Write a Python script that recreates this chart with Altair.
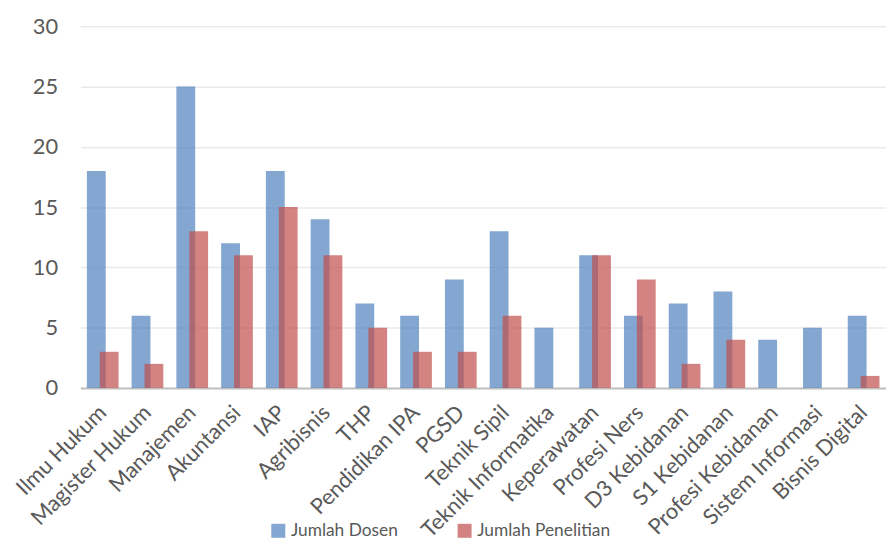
import altair as alt
import pandas as pd

categories = ["Ilmu Hukum", "Magister Hukum", "Manajemen", "Akuntansi", "IAP", "Agribisnis",
              "THP", "Pendidikan IPA", "PGSD", "Teknik Sipil", "Teknik Informatika",
              "Keperawatan", "Profesi Ners", "D3 Kebidanan", "S1 Kebidanan",
              "Profesi Kebidanan", "Sistem Informasi", "Bisnis Digital"]
dosen = [18, 6, 25, 12, 18, 14, 7, 6, 9, 13, 5, 11, 6, 7, 8, 4, 5, 6]
penelitian = [3, 2, 13, 11, 15, 11, 5, 3, 3, 6, 0, 11, 9, 2, 4, 0, 0, 1]
series = ["Jumlah Dosen", "Jumlah Penelitian"]
colors = ["#4f81bd", "#c0504d"]

df1 = pd.DataFrame({"cat": categories, "val": dosen, "s": series[0]})
df2 = pd.DataFrame({"cat": categories, "val": penelitian, "s": series[1]})

FONT = "Lato"
color_scale = alt.Scale(domain=series, range=colors)
y_scale = alt.Scale(domain=[0, 30])

x = alt.X("cat:N", sort=categories, title=None,
          scale=alt.Scale(paddingInner=0, paddingOuter=0),
          axis=alt.Axis(labelAngle=-45, labelAlign="right", labelBaseline="middle",
                        labelPadding=21, ticks=False, domainColor="#bfbfbf", domainWidth=2,
                        labelFontSize=22, labelFont=FONT, labelColor="#595959",
                        labelOverlap=False, labelLimit=300))
y_axis = alt.Axis(values=[0, 5, 10, 15, 20, 25, 30], domain=False, ticks=False,
                  gridColor="#eaeaea", gridWidth=1.5, labelPadding=23,
                  labelFontSize=22, labelFont=FONT, labelColor="#595959")

legend = alt.Legend(title=None, orient="none", legendX=191, legendY=500, direction="horizontal",
                    symbolType="square", symbolSize=200, symbolStrokeWidth=0, symbolOpacity=0.7,
                    labelFontSize=17.5, labelFont=FONT, labelColor="#595959", columnPadding=58)

b1 = alt.Chart(df1).mark_bar(width=19, xOffset=-6.5, opacity=0.7).encode(
    x=x, y=alt.Y("val:Q", scale=y_scale, title=None, axis=y_axis),
    color=alt.Color("s:N", scale=color_scale, legend=legend))
b2 = alt.Chart(df2).mark_bar(width=19, xOffset=6.5, opacity=0.7).encode(
    x=x, y=alt.Y("val:Q", scale=y_scale, title=None),
    color=alt.Color("s:N", scale=color_scale, legend=legend))

chart = alt.layer(b1, b2).properties(
    width=813, height=365,
    autosize=alt.AutoSizeParams(type="none"),
    padding={"left": 73, "top": 16, "right": 0, "bottom": 152},
).configure_view(stroke=None)

chart.save("out.html", embed_options={"renderer": "svg", "actions": False})
